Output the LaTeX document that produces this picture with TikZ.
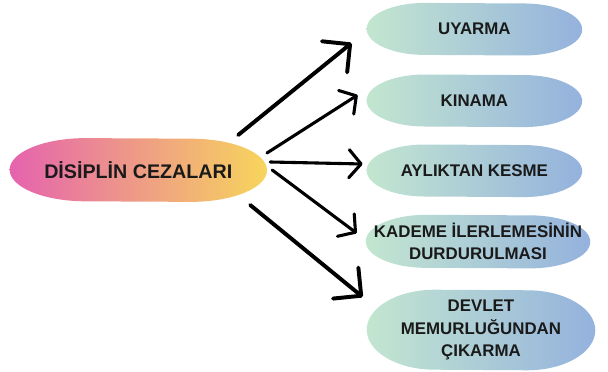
\documentclass[tikz,border=0pt]{standalone}
\usepackage{fontspec}
\setmainfont{Liberation Sans}
\usetikzlibrary{arrows.meta,backgrounds}
\definecolor{pembe}{HTML}{E563AE}
\definecolor{sari}{HTML}{F7D55C}
\definecolor{mint}{HTML}{C3E6D0}
\definecolor{acikmavi}{HTML}{AAD6E8}
\definecolor{mavi}{HTML}{94B2DD}
\definecolor{yazirengi}{HTML}{1A1A1A}
% kapsul: node, x yaricapi, y yaricapi, renk
\newcommand{\kapsul}[4]{\shade[#4] ([xshift=#2]#1.north west) arc[start angle=90,end angle=270,x radius=#2,y radius=#3] -- ([xshift=-#2]#1.south east) arc[start angle=-90,end angle=90,x radius=#2,y radius=#3] -- cycle;}
\begin{document}
\begin{tikzpicture}
			\tikzstyle{ana}=[rectangle,inner sep=0pt,minimum width=6.42cm,minimum height=1.58cm,text=yazirengi,font=\fontsize{14}{16}\selectfont\bfseries];
			\tikzstyle{ceza}=[rectangle,inner sep=0pt,minimum width=5.375cm,minimum height=1.3cm,align=center,text=yazirengi,font=\fontsize{12}{16}\selectfont\bfseries];
			\tikzstyle{sicak}=[left color=pembe,right color=sari];
			\tikzstyle{soguk}=[left color=mint,middle color=acikmavi,right color=mavi];
			\tikzstyle{ok}=[-{Straight Barb[length=3mm,width=7mm,round]},line width=2.2pt,line cap=round];
			\tikzstyle{buyukok}=[-{Straight Barb[length=5mm,width=10mm,round]},line width=2.8pt,line cap=round];
			\useasboundingbox (0,0) rectangle (15.2,9.3);
			\node[ana](disiplin)at(3.458,5.05){DİSİPLİN CEZALARI};
			
			\node[ceza](uyarma)at(11.86,8.57){UYARMA};
			\node[ceza](kinama)at(11.86,6.78){KINAMA};
			\node[ceza](aylik)at(11.86,5.03){AYLIKTAN KESME};
			\node[ceza,minimum width=5.6cm,minimum height=1.325cm](kademe)at(11.95,3.26){KADEME İLERLEMESİNİN\\DURDURULMASI};
			\node[ceza,minimum width=5.7cm,minimum height=2cm](devlet)at(12.025,1.05){DEVLET\\MEMURLUĞUNDAN\\ÇIKARMA};
			
			\begin{scope}[on background layer]
				\kapsul{disiplin}{1.9cm}{0.79cm}{sicak}
				\kapsul{uyarma}{1.45cm}{0.65cm}{soguk}
				\kapsul{kinama}{1.45cm}{0.65cm}{soguk}
				\kapsul{aylik}{1.45cm}{0.65cm}{soguk}
				\kapsul{kademe}{1.5cm}{0.6625cm}{soguk}
				\kapsul{devlet}{1.7cm}{1cm}{soguk}
			\end{scope}
			
			\path[buyukok] ([xshift=-0.72cm,yshift=0.875cm]disiplin.east) edge ([xshift=-0.375cm,yshift=-0.345cm]uyarma.west);
			\path[ok] ([xshift=0cm,yshift=0.425cm]disiplin.east) edge ([xshift=-0.225cm,yshift=0.145cm]kinama.west);
			\path[ok] ([xshift=0.08cm,yshift=0.2cm]disiplin.east) edge ([xshift=-0.1cm,yshift=0.17cm]aylik.west);
			\path[ok] ([xshift=0.13cm,yshift=0cm]disiplin.east) edge ([xshift=-0.225cm,yshift=0.21cm]kademe.west);
			\path[buyukok] ([xshift=-0.42cm,yshift=-0.875cm]disiplin.east) edge ([xshift=-0.1cm,yshift=0.825cm]devlet.west);
\end{tikzpicture}
\end{document}
